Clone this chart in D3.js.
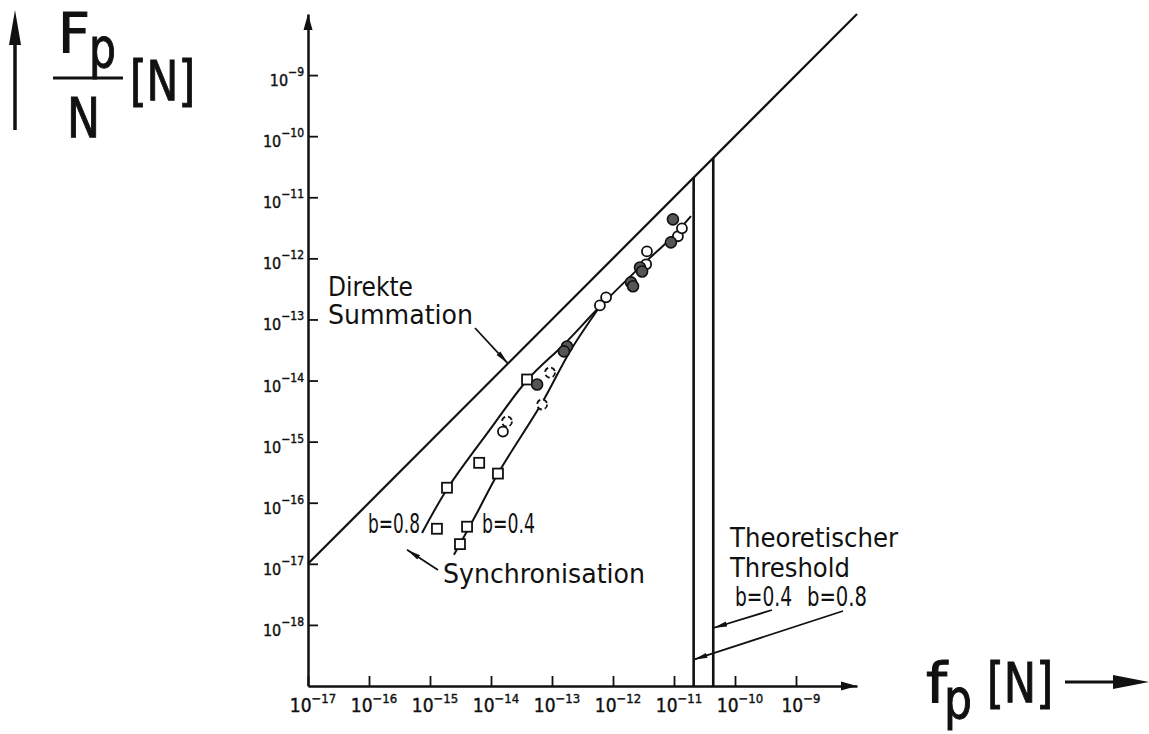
<!DOCTYPE html>
<meta charset="utf-8">

<!-- Load d3.js -->
<script src="https://d3js.org/d3.v7.min.js"></script>

<style>
  body { margin: 0; background: #fff; }
  text { font-family: "DejaVu Sans Condensed", "DejaVu Sans", sans-serif; fill: #111; }
</style>

<!-- Create a div where the graph will take place -->
<div id="my_dataviz"></div>

<script>
// tick exponents (labels are 10^exp)
var xTickExp = [-17, -16, -15, -14, -13, -12, -11, -10, -9];
var yTickExp = [-18, -17, -16, -15, -14, -13, -12, -11, -10, -9];

// measured points [f_p, F_p/N]
var squarePts = [[1.30e-15, 3.75e-17], [1.90e-15, 1.76e-16], [6.4e-15, 4.5e-16], [3.9e-14, 1.04e-14],
                 [3.1e-15, 2.1e-17], [4.05e-15, 4.05e-17], [1.30e-14, 3.0e-16]];
var openPts = [[1.57e-14, 1.46e-15], [6.1e-13, 1.70e-13], [7.7e-13, 2.3e-13], [3.5e-12, 8.0e-13],
               [3.6e-12, 1.30e-12], [1.16e-11, 2.3e-12], [1.35e-11, 3.1e-12]];
var dashedPts = [[1.83e-14, 2.13e-15], [9.3e-14, 1.35e-14], [6.9e-14, 4.05e-15]];
var filledPts = [[5.7e-14, 8.6e-15], [1.76e-13, 3.6e-14], [1.57e-13, 3.0e-14], [1.97e-12, 4.05e-13],
                 [2.13e-12, 3.5e-13], [2.77e-12, 7.1e-13], [3.0e-12, 6.1e-13], [8.9e-12, 1.83e-12],
                 [9.6e-12, 4.35e-12]];

// hand drawn fit curves
var curveB08 = [[7.4e-16, 3.2e-17], [1.97e-15, 1.76e-16], [9.6e-15, 1.57e-15], [4.0e-14, 1.04e-14],
                [1.63e-13, 4.05e-14], [6.1e-13, 1.63e-13], [3.35e-12, 8.6e-13], [8.6e-12, 2.05e-12],
                [1.9e-11, 4.9e-12]];
var curveB04 = [[2.47e-15, 1.41e-17], [5.7e-15, 6.4e-17], [1.3e-14, 3.0e-16], [6.9e-14, 4.36e-15],
                [1.97e-13, 3.0e-14], [6.1e-13, 1.63e-13]];

// direct summation F/N = f, and the theoretical thresholds (b=0.4, b=0.8)
var directSum = [1e-17, 1e-8];
var thresholds = [2.1e-11, 4.4e-11];

// set the dimensions and margins of the graph
var W = 1149, H = 734;
var margin = {top: 14, left: 308},
    width = 549,
    height = 672;

var root = d3.select("#my_dataviz")
  .append("svg")
    .attr("width", W)
    .attr("height", H);

root.append("defs").append("marker")
    .attr("id", "arr")
    .attr("viewBox", "0 -3 14 6")
    .attr("refX", 14).attr("refY", 0)
    .attr("markerWidth", 14).attr("markerHeight", 6)
    .attr("markerUnits", "userSpaceOnUse")
    .attr("orient", "auto")
  .append("path")
    .attr("d", "M0,-2.6L14,0L0,2.6Z")
    .attr("fill", "#111");

var svg = root.append("g")
    .attr("transform", "translate(" + margin.left + "," + margin.top + ")");

var x = d3.scaleLog().domain([1e-17, 1e-8]).range([0, width]);
var y = d3.scaleLog().domain([1e-19, 1e-8]).range([height, 0]);

// X axis
svg.append("g")
    .attr("transform", "translate(0," + height + ")")
    .call(d3.axisBottom(x).tickValues(xTickExp.map(function (e) { return Math.pow(10, e); }))
          .tickSizeInner(-10).tickSizeOuter(0).tickFormat(""))
    .call(function (g) {
      g.select(".domain").attr("stroke-width", 2.5).attr("stroke", "#111");
      g.selectAll(".tick line").attr("stroke-width", 1.8).attr("stroke", "#111");
    });

// Y axis
svg.append("g")
    .call(d3.axisLeft(y).tickValues(yTickExp.map(function (e) { return Math.pow(10, e); }))
          .tickSizeInner(-10).tickSizeOuter(0).tickFormat(""))
    .call(function (g) {
      g.select(".domain").attr("stroke-width", 2.5).attr("stroke", "#111");
      g.selectAll(".tick line").attr("stroke-width", 1.8).attr("stroke", "#111");
    });

// axis arrow heads
svg.append("path")
    .attr("d", "M" + width + "," + height + "l-16,-4.5l0,9z").attr("fill", "#111");
svg.append("path")
    .attr("d", "M0,0l-4.5,16l9,0z").attr("fill", "#111");

// tick labels
xTickExp.forEach(function (e) {
  var t = svg.append("text")
      .attr("x", x(Math.pow(10, e)) + 5)
      .attr("y", height + 26)
      .attr("text-anchor", "middle")
      .style("font-size", "19px")
      .attr("stroke", "#111").attr("stroke-width", 0.4);
  t.append("tspan").text("10");
  t.append("tspan").attr("dy", -9).style("font-size", "13px").text("\u2212" + (-e));
});
yTickExp.forEach(function (e) {
  var t = svg.append("text")
      .attr("x", -4)
      .attr("y", y(Math.pow(10, e)) + 11)
      .attr("text-anchor", "end")
      .style("font-size", "16px")
      .attr("stroke", "#111").attr("stroke-width", 0.4);
  t.append("tspan").text("10");
  t.append("tspan").attr("dy", -10).style("font-size", "12px").text("\u2212" + (-e));
});

// direct summation line
svg.append("line")
    .attr("x1", x(directSum[0])).attr("y1", y(directSum[0]))
    .attr("x2", x(directSum[1])).attr("y2", y(directSum[1]))
    .attr("stroke", "#111").attr("stroke-width", 2.2);

// threshold verticals
svg.selectAll(".thr")
  .data(thresholds)
  .enter()
  .append("line")
    .attr("x1", function (d) { return x(d); }).attr("x2", function (d) { return x(d); })
    .attr("y1", height).attr("y2", function (d) { return y(d); })
    .attr("stroke", "#111").attr("stroke-width", 2.6);

// fit curves
var line = d3.line()
    .x(function (d) { return x(d[0]); })
    .y(function (d) { return y(d[1]); })
    .curve(d3.curveCatmullRom);
[curveB08, curveB04].forEach(function (c) {
  svg.append("path").datum(c)
      .attr("d", line)
      .attr("fill", "none").attr("stroke", "#111").attr("stroke-width", 2);
});

// points
svg.append("g").selectAll("rect")
  .data(squarePts).enter().append("rect")
    .attr("x", function (d) { return x(d[0]) - 5; })
    .attr("y", function (d) { return y(d[1]) - 5; })
    .attr("width", 10).attr("height", 10)
    .attr("fill", "#fff").attr("stroke", "#111").attr("stroke-width", 1.8);
svg.append("g").selectAll("circle")
  .data(openPts).enter().append("circle")
    .attr("cx", function (d) { return x(d[0]); })
    .attr("cy", function (d) { return y(d[1]); })
    .attr("r", 5)
    .attr("fill", "#fff").attr("stroke", "#111").attr("stroke-width", 1.8);
svg.append("g").selectAll("circle")
  .data(dashedPts).enter().append("circle")
    .attr("cx", function (d) { return x(d[0]); })
    .attr("cy", function (d) { return y(d[1]); })
    .attr("r", 5)
    .attr("fill", "#fff").attr("stroke", "#111").attr("stroke-width", 1.8)
    .attr("stroke-dasharray", "5,3");
svg.append("g").selectAll("circle")
  .data(filledPts).enter().append("circle")
    .attr("cx", function (d) { return x(d[0]); })
    .attr("cy", function (d) { return y(d[1]); })
    .attr("r", 5.5)
    .attr("fill", "#555").attr("stroke", "#111").attr("stroke-width", 1.6);

// annotations
function label(txt, px, py, size, len) {
  var t = root.append("text").attr("x", px).attr("y", py).style("font-size", size + "px").text(txt);
  if (len) t.attr("textLength", len).attr("lengthAdjust", "spacingAndGlyphs");
  return t;
}
function arrow(x1, y1, x2, y2) {
  root.append("line")
      .attr("x1", x1).attr("y1", y1).attr("x2", x2).attr("y2", y2)
      .attr("stroke", "#111").attr("stroke-width", 1.8)
      .attr("marker-end", "url(#arr)");
}

label("Direkte", 328, 296, 26, 85);
label("Summation", 328, 324, 26, 145);
arrow(475, 328, margin.left + x(1.9e-14), margin.top + y(1.9e-14));

label("b=0.8", 368, 533, 26, 52);
label("b=0.4", 482, 533, 26, 53);
label("Synchronisation", 443, 583, 26, 202);
arrow(438, 570, margin.left + x(4.2e-16), margin.top + y(1.7e-17));

label("Theoretischer", 730, 547, 26, 168);
label("Threshold", 730, 577, 26, 120);
label("b=0.4", 735, 606, 26, 57);
label("b=0.8", 807, 606, 26, 60);
arrow(772, 610, margin.left + x(thresholds[1]), margin.top + y(8.9e-19));
arrow(843, 611, margin.left + x(thresholds[0]), margin.top + y(2.7e-19));

// y axis title
root.append("line").attr("x1", 15).attr("y1", 130).attr("x2", 15).attr("y2", 40)
    .attr("stroke", "#111").attr("stroke-width", 3.5);
root.append("path").attr("d", "M15,10l-6,35l12,0z").attr("fill", "#111");
label("F", 58, 52, 56, 32).attr("stroke", "#111").attr("stroke-width", 1);
label("p", 89, 67, 56, 27).attr("stroke", "#111").attr("stroke-width", 1);
root.append("line").attr("x1", 53).attr("y1", 78).attr("x2", 123).attr("y2", 78)
    .attr("stroke", "#111").attr("stroke-width", 3);
label("N", 67, 137, 56, 33).attr("stroke", "#111").attr("stroke-width", 1);
label("[N]", 130, 100, 56, 65).attr("stroke", "#111").attr("stroke-width", 1);

// x axis title
label("f", 926, 702, 56, 21).attr("stroke", "#111").attr("stroke-width", 1);
label("p", 944, 718, 56, 28).attr("stroke", "#111").attr("stroke-width", 1);
label("[N]", 987, 702, 56, 66).attr("stroke", "#111").attr("stroke-width", 1);
root.append("line").attr("x1", 1065).attr("y1", 682).attr("x2", 1120).attr("y2", 682)
    .attr("stroke", "#111").attr("stroke-width", 3);
root.append("path").attr("d", "M1149,682l-36,-7l0,14z").attr("fill", "#111");
</script>
